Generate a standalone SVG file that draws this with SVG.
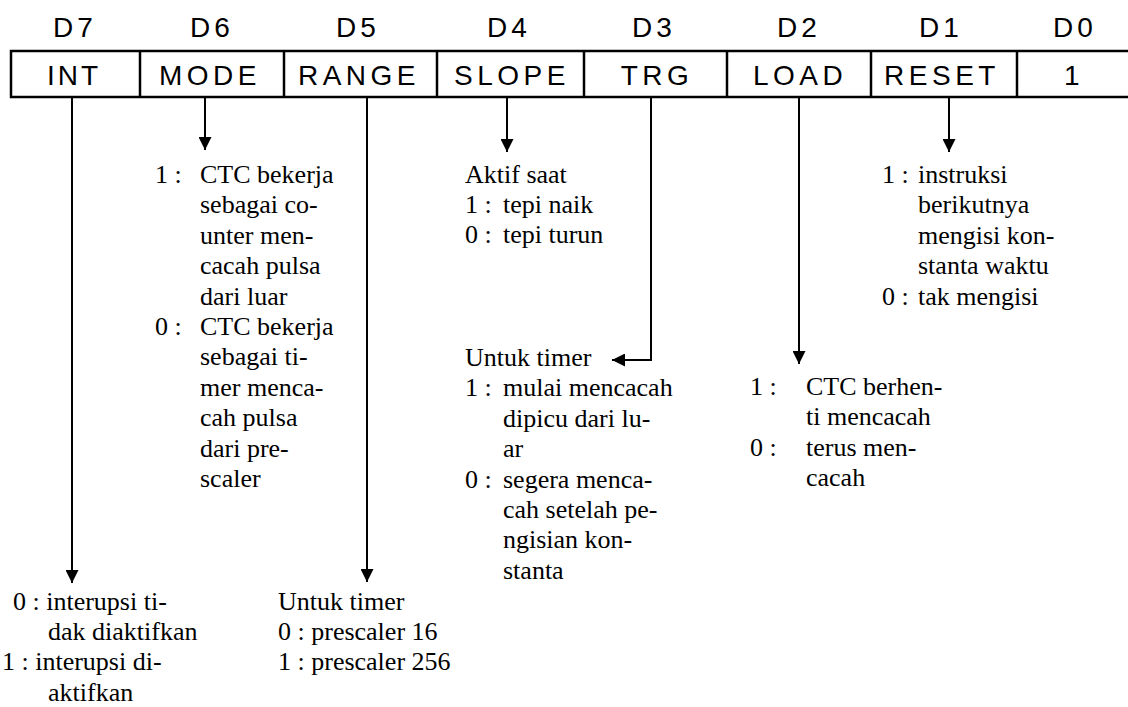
<svg xmlns="http://www.w3.org/2000/svg" width="1128" height="707" viewBox="0 0 1128 707">
<style>
.hd{font-family:"Liberation Sans",Arial,sans-serif;font-size:28px;letter-spacing:4.5px;fill:#000;text-anchor:middle}
.dn{letter-spacing:4px}
.tx{font-family:"Liberation Serif","Times New Roman",serif;font-size:26px;fill:#000}
.cell{fill:none;stroke:#000;stroke-width:2.5}
.con{fill:none;stroke:#000;stroke-width:2}
</style>
<defs>
<marker id="ah" markerUnits="userSpaceOnUse" markerWidth="13" markerHeight="13" refX="13" refY="6.5" orient="auto">
<path d="M0,0 L13,6.5 L0,13 z" fill="#000"/>
</marker>
</defs>
<rect width="1128" height="707" fill="#fff"/>
<g id="register">
<rect class="cell" x="11" y="51" width="1125" height="46"/>
<line class="cell" x1="140" y1="51" x2="140" y2="97"/>
<line class="cell" x1="284" y1="51" x2="284" y2="97"/>
<line class="cell" x1="437" y1="51" x2="437" y2="97"/>
<line class="cell" x1="584" y1="51" x2="584" y2="97"/>
<line class="cell" x1="727" y1="51" x2="727" y2="97"/>
<line class="cell" x1="871" y1="51" x2="871" y2="97"/>
<line class="cell" x1="1017" y1="51" x2="1017" y2="97"/>
<text class="hd dn" x="75" y="37">D7</text>
<text class="hd dn" x="212" y="37">D6</text>
<text class="hd dn" x="358" y="37">D5</text>
<text class="hd dn" x="509" y="37">D4</text>
<text class="hd dn" x="654" y="37">D3</text>
<text class="hd dn" x="799" y="37">D2</text>
<text class="hd dn" x="941" y="37">D1</text>
<text class="hd dn" x="1075" y="37">D0</text>
<text class="hd" x="74" y="85" style="letter-spacing:3px">INT</text>
<text class="hd" x="210" y="85">MODE</text>
<text class="hd" x="359" y="85">RANGE</text>
<text class="hd" x="512" y="85">SLOPE</text>
<text class="hd" x="657" y="85">TRG</text>
<text class="hd" x="800" y="85">LOAD</text>
<text class="hd" x="942" y="85">RESET</text>
<text class="hd" x="1074" y="85">1</text>
</g>
<g id="connectors">
<line class="con" x1="72" y1="97" x2="72" y2="583" marker-end="url(#ah)"/>
<line class="con" x1="205" y1="97" x2="205" y2="150" marker-end="url(#ah)"/>
<line class="con" x1="367" y1="97" x2="367" y2="582" marker-end="url(#ah)"/>
<line class="con" x1="507" y1="97" x2="507" y2="152" marker-end="url(#ah)"/>
<polyline class="con" points="651,97 651,360 612,360" marker-end="url(#ah)"/>
<line class="con" x1="799" y1="97" x2="799" y2="364" marker-end="url(#ah)"/>
<line class="con" x1="949" y1="97" x2="949" y2="152" marker-end="url(#ah)"/>
</g>
<g id="int-desc" class="tx">
<text x="13" y="610">0 : interupsi ti-</text>
<text x="48" y="640">dak diaktifkan</text>
<text x="2" y="670">1 : interupsi di-</text>
<text x="48" y="701">aktifkan</text>
</g>
<g id="mode-desc" class="tx">
<text x="155" y="183">1 :</text>
<text x="200" y="183">CTC bekerja</text>
<text x="200" y="213">sebagai co-</text>
<text x="200" y="244">unter men-</text>
<text x="200" y="274">cacah pulsa</text>
<text x="200" y="305">dari luar</text>
<text x="155" y="335">0 :</text>
<text x="200" y="335">CTC bekerja</text>
<text x="200" y="365">sebagai ti-</text>
<text x="200" y="396">mer menca-</text>
<text x="200" y="426">cah pulsa</text>
<text x="200" y="457">dari pre-</text>
<text x="200" y="487">scaler</text>
</g>
<g id="range-desc" class="tx">
<text x="278" y="610">Untuk timer</text>
<text x="278" y="640">0 : prescaler 16</text>
<text x="278" y="670">1 : prescaler 256</text>
</g>
<g id="slope-desc" class="tx">
<text x="465" y="183">Aktif saat</text>
<text x="465" y="213">1 :</text>
<text x="503" y="213">tepi naik</text>
<text x="465" y="243">0 :</text>
<text x="503" y="243">tepi turun</text>
</g>
<g id="trg-desc" class="tx">
<text x="465" y="366">Untuk timer</text>
<text x="465" y="396">1 :</text>
<text x="503" y="396">mulai mencacah</text>
<text x="503" y="427">dipicu dari lu-</text>
<text x="503" y="457">ar</text>
<text x="465" y="488">0 :</text>
<text x="503" y="488">segera menca-</text>
<text x="503" y="518">cah setelah pe-</text>
<text x="503" y="548">ngisian kon-</text>
<text x="503" y="579">stanta</text>
</g>
<g id="load-desc" class="tx">
<text x="750" y="395">1 :</text>
<text x="806" y="395">CTC berhen-</text>
<text x="806" y="425">ti mencacah</text>
<text x="750" y="456">0 :</text>
<text x="806" y="456">terus men-</text>
<text x="806" y="486">cacah</text>
</g>
<g id="reset-desc" class="tx">
<text x="882" y="183">1 :</text>
<text x="918" y="183">instruksi</text>
<text x="918" y="213">berikutnya</text>
<text x="918" y="244">mengisi kon-</text>
<text x="918" y="274">stanta waktu</text>
<text x="882" y="305">0 :</text>
<text x="918" y="305">tak mengisi</text>
</g>
</svg>
